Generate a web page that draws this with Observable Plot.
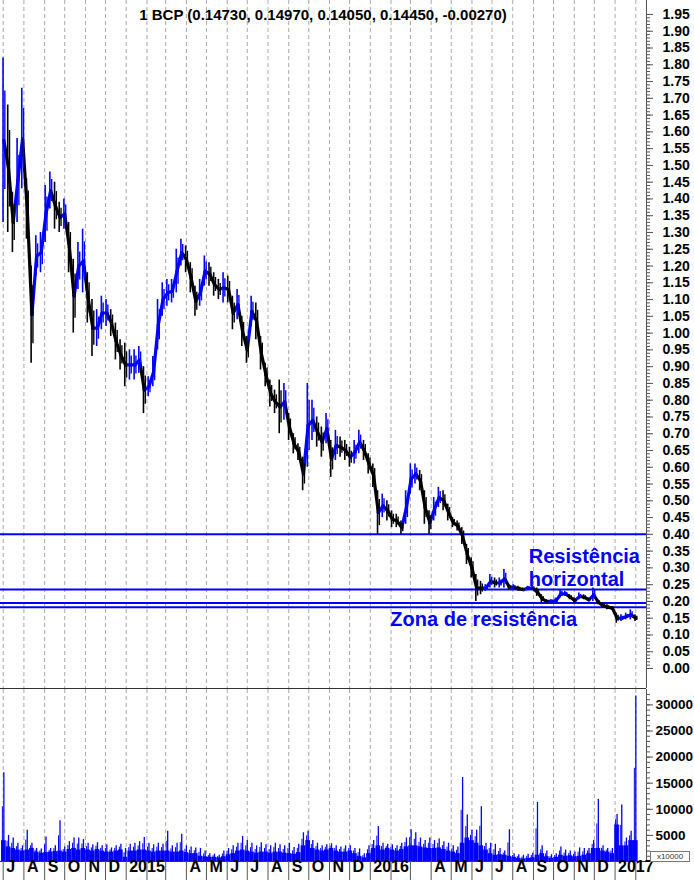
<!DOCTYPE html>
<html><head><meta charset="utf-8">
<script src="https://cdn.jsdelivr.net/npm/d3@7"></script>
<script src="https://cdn.jsdelivr.net/npm/@observablehq/plot@0.6"></script>
<style>
body{margin:0;background:#fff;font-family:"Liberation Sans",Arial,sans-serif;}
#chart{position:relative;width:694px;height:880px;overflow:hidden;background:#fff;}
#title{position:absolute;left:0;width:646px;top:6px;line-height:18px;text-align:center;font-weight:bold;font-size:15px;color:#000;z-index:2;}
#unit{position:absolute;left:650px;top:851px;width:38px;height:9px;border:1px solid #777;font-size:8px;line-height:9px;text-align:center;color:#333;background:#fff;z-index:2;}
svg{display:block}
</style></head><body>
<div id="chart">
<div id="title">1 BCP (0.14730, 0.14970, 0.14050, 0.14450, -0.00270)</div>
<div id="unit">x10000</div>
</div>
<script>
// weekly high / low prices (EUR), first week = week of 30 Jun 2014
const highs = [1.82,1.68,1.42,1.58,1.73,1.46,1.20,1.29,1.30,1.44,
1.48,1.45,1.39,1.40,1.33,1.22,1.27,1.31,1.18,1.10,
1.07,1.11,1.10,1.07,1.03,0.98,0.97,0.95,0.95,0.96,
0.90,0.87,0.93,1.10,1.15,1.16,1.16,1.25,1.28,1.26,
1.21,1.14,1.16,1.23,1.21,1.18,1.16,1.18,1.17,1.11,
1.13,1.05,0.99,1.11,1.09,0.99,0.91,0.86,0.83,0.86,
0.85,0.76,0.70,0.67,0.63,0.85,0.80,0.75,0.72,0.76,
0.68,0.71,0.69,0.68,0.66,0.68,0.71,0.68,0.64,0.61,
0.53,0.52,0.50,0.47,0.46,0.44,0.53,0.61,0.61,0.59,
0.53,0.47,0.51,0.54,0.53,0.49,0.45,0.44,0.42,0.37,
0.33,0.28,0.26,0.25,0.28,0.27,0.27,0.295,0.25,0.25,
0.245,0.24,0.245,0.245,0.24,0.22,0.205,0.205,0.21,0.235,
0.23,0.22,0.21,0.225,0.22,0.21,0.24,0.205,0.195,0.19,
0.185,0.165,0.16,0.165,0.175,0.16];
const lows = [1.33,1.30,1.24,1.33,1.43,1.28,0.91,1.17,1.18,1.27,
1.37,1.31,1.30,1.31,1.18,1.00,1.13,1.12,1.03,0.93,
0.96,1.01,1.02,0.99,0.92,0.89,0.84,0.86,0.86,0.88,
0.76,0.81,0.84,0.95,1.05,1.08,1.09,1.12,1.20,1.18,
1.12,1.05,1.08,1.14,1.14,1.11,1.10,1.09,1.09,1.01,
1.04,0.96,0.91,1.02,0.98,0.89,0.84,0.78,0.76,0.70,
0.74,0.68,0.64,0.62,0.53,0.60,0.68,0.66,0.63,0.67,
0.57,0.62,0.63,0.62,0.60,0.61,0.64,0.62,0.58,0.54,
0.40,0.45,0.44,0.42,0.42,0.40,0.43,0.52,0.55,0.53,
0.43,0.40,0.44,0.48,0.47,0.44,0.42,0.41,0.37,0.31,
0.27,0.20,0.22,0.23,0.24,0.24,0.24,0.24,0.235,0.235,
0.23,0.23,0.235,0.235,0.215,0.195,0.195,0.195,0.195,0.21,
0.215,0.205,0.195,0.205,0.205,0.20,0.20,0.19,0.18,0.175,
0.175,0.135,0.14,0.145,0.145,0.14];
// weekly volume: typical daily level and largest day of the week
const volBase = [4000,2800,2500,2200,2000,2200,2500,1800,1600,1700,
1800,1900,2000,1800,2300,2500,2200,2500,2200,2000,
2300,2000,1800,1800,2000,2200,800,2000,2000,2200,
2200,2000,1800,2000,2000,2000,1800,1800,2000,1700,
1500,1500,1000,900,800,800,700,900,1300,1500,
2000,2200,2000,1800,1600,1800,1800,1600,1800,1800,
1600,1500,1400,1700,3000,4000,2500,2200,2000,2200,
2500,2000,1800,1800,2000,1500,1000,700,1500,2500,
3000,2200,2500,2200,2000,2300,2800,3000,3000,2800,
2600,2500,2500,2600,2300,2000,1800,1500,3500,4500,
4000,3500,3000,2200,1500,1200,1300,1200,1000,800,
600,500,600,700,1200,1500,900,600,800,1200,
1000,1100,900,1000,1200,1500,2500,2500,2000,1800,
1500,7000,3000,3000,4000,4000];
const volPeak = [17000,5000,4500,3500,3000,6000,3500,2500,2400,4700,
2500,3000,7800,2800,3800,4500,4500,4200,3500,3200,
3600,3000,3200,2600,3000,3300,2500,3300,3500,3800,
4600,3500,3200,3500,3300,5800,3000,3500,5200,3000,
2800,2600,2500,2000,1500,1400,1200,2000,2500,3000,
3500,4800,4000,3500,3000,3600,3200,3000,3500,3200,
3000,3500,2700,3300,5500,5800,4000,3500,3000,3200,
3400,3000,2800,3000,3000,2500,2400,1500,3000,4000,
6700,3500,3300,3200,3000,3500,4500,6100,5500,4500,
4000,4500,4000,4300,3800,3500,3000,2800,16100,8900,
6000,6000,10500,3500,3500,3300,2500,2000,6100,1500,
1300,1200,1400,1600,11300,3000,2000,1300,1500,2800,
2200,2000,1800,2600,2500,2500,4000,11900,3000,2500,
2500,9000,10800,4500,5800,31700];
const monthLabels = ["J","A","S","O","N","D","2015","","","A","M","J","J","A","S","O","N","D","2016","","","A","M","J","J","A","S","O","N","D","2017",""];
const resistLevels = [0.40, 0.2355, 0.195, 0.183];
const volTicks = [5000,10000,15000,20000,25000,30000];
const notes = [
  {text:"Resistência", date:"2016-08-25", price:0.335},
  {text:"horizontal", date:"2016-08-25", price:0.264},
  {text:"Zona de resistência", date:"2016-01-31", price:0.147}
];

const BLUE = "#0000ff";
const weekDates = d3.utcWednesday.range(new Date(Date.UTC(2014,6,1)), new Date(Date.UTC(2017,2,1))).slice(0, highs.length);
const weeks = weekDates.map((date,i)=>({
  date, high:highs[i], low:lows[i], mid:(highs[i]+lows[i])/2, base:volBase[i], peak:volPeak[i],
  up: i===0 ? true : (highs[i]+lows[i]) >= (highs[i-1]+lows[i-1])
}));
const segs = weeks.slice(1).map((w,i)=>({d1:weeks[i].date, m1:weeks[i].mid, d2:w.date, m2:w.mid, up:w.up}));
const monthStarts = d3.utcMonth.range(new Date(Date.UTC(2014,6,1)), new Date(Date.UTC(2017,2,1)));
const priceTicks = d3.range(0,40).map(i=>i*0.05);
const priceMinor = d3.range(0,196).map(i=>i*0.01);
const volMinor = d3.range(1,33).map(i=>i*1000);
const xDomain = [new Date(Date.UTC(2014,5,27)), new Date(Date.UTC(2017,1,17))];
const DAY = 864e5;
const col = d=>d.up?BLUE:"#000";

const price = Plot.plot({
  width:694, height:689, marginLeft:0, marginRight:48, marginTop:0, marginBottom:1,
  style:{fontFamily:"Liberation Sans, Arial, sans-serif", background:"transparent"},
  x:{type:"utc", domain:xDomain, axis:null},
  y:{domain:[-0.0596, 1.99165], axis:null, label:null},
  marks:[
    Plot.ruleX(monthStarts, {x:d=>d, stroke:"#aaa", strokeDasharray:"4,3"}),
    Plot.ruleY(resistLevels, {y:d=>d, stroke:BLUE, strokeWidth:2}),
    Plot.link(segs, {x1:"d1", y1:"m1", x2:"d2", y2:"m2", stroke:col, strokeWidth:3.2, strokeLinecap:"round"}),
    Plot.ruleX(weeks, {x:d=>new Date(+d.date-1.2*DAY), y1:"low", y2:"high", stroke:col, strokeWidth:1.6}),
    Plot.ruleX(weeks, {x:d=>new Date(+d.date+1.5*DAY), y1:d=>d.low+(d.high-d.low)*0.2, y2:d=>d.high-(d.high-d.low)*0.2, stroke:col, strokeWidth:1.4}),
    Plot.text(notes, {x:d=>new Date(d.date), y:"price", text:"text", textAnchor:"start", fill:BLUE, fontSize:20, fontWeight:"bold"}),
    Plot.axisY(priceMinor, {anchor:"right", tickSize:3, tickFormat:()=>"", label:null, stroke:"#555"}),
    Plot.axisY(priceTicks, {anchor:"right", tickSize:6, tickPadding:10, tickFormat:d=>d.toFixed(2), fontSize:14, fontWeight:"bold", label:null, stroke:"#555"}),
    Plot.ruleX([xDomain[1]], {stroke:"#555"}),
    Plot.ruleY([-0.0596], {stroke:"#333"})
  ]
});

const vol = Plot.plot({
  width:694, height:191, marginLeft:0, marginRight:48, marginTop:0, marginBottom:19,
  style:{fontFamily:"Liberation Sans, Arial, sans-serif", background:"transparent"},
  x:{type:"utc", domain:xDomain, axis:null},
  y:{domain:[0, 32950], axis:null, label:null},
  marks:[
    Plot.ruleX(monthStarts, {x:d=>d, stroke:"#aaa", strokeDasharray:"4,3"}),
    Plot.rect(weeks, {x1:d=>new Date(+d.date-3.5*DAY), x2:d=>new Date(+d.date+3.5*DAY), y1:0, y2:"base", fill:BLUE}),
    Plot.ruleX(weeks, {x:"date", y1:0, y2:"peak", stroke:BLUE, strokeWidth:1.3}),
    Plot.ruleX(weeks, {x:d=>new Date(+d.date-2.2*DAY), y1:0, y2:d=>(d.base+d.peak)/2, stroke:BLUE, strokeWidth:1}),
    Plot.axisY(volMinor, {anchor:"right", tickSize:3, tickFormat:()=>"", label:null, stroke:"#555"}),
    Plot.axisY(volTicks, {anchor:"right", tickSize:6, tickPadding:3, tickFormat:d=>String(d), fontSize:13.5, fontWeight:"bold", label:null, stroke:"#555"}),
    Plot.ruleX([xDomain[1]], {stroke:"#555"}),
    Plot.ruleY([0], {stroke:"#333"}),
    Plot.axisX(monthStarts, {anchor:"bottom", tickSize:19, tickFormat:()=>"", label:null, stroke:"#555"}),
    Plot.text(monthStarts, {x:d=>d, text:(d,i)=>monthLabels[i], frameAnchor:"bottom", dy:10, dx:3, textAnchor:"start", fontSize:16, fontWeight:"bold", fill:"#000"})
  ]
});

const chart = document.getElementById("chart");
chart.appendChild(price);
chart.appendChild(vol);
</script>
</body></html>
